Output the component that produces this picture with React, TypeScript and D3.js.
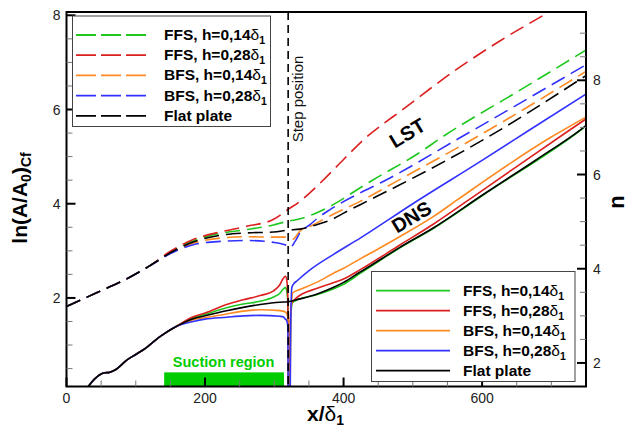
import React from "react";
import * as d3 from "d3";

type P = [number, number];

const W = 629;
const H = 430;
const M = { left: 66.5, right: 43, top: 12, bottom: 43.5 };
const FONT = "'Liberation Sans', Arial, sans-serif";

// axis domains
const X_MIN = 0;
const X_MAX = 750;
const Y_MIN = 0.12;
const Y_MAX = 8.07;
const N_OFFSET = 1.38; // right axis n = ln(A/A0) + offset

const xMajor = [0, 200, 400, 600];
const yMajor = [2, 4, 6, 8];
const nMajor = [2, 4, 6, 8];

const STEP_X = 320;
const SUCTION = [141, 314];
const SUCTION_TOP = 0.42;

const seriesNames = ["FFS, h=0,14", "FFS, h=0,28", "BFS, h=0,14", "BFS, h=0,28", "Flat plate"];
const seriesColors = ["#1ec81e", "#dc1f1f", "#ff8a22", "#3232ff", "#000000"];

// LST (dashed) curves
const lstStart: P[] = [[0, 1.82], [45, 2.12], [90, 2.43], [120, 2.68]];
const lstFFS014: P[] = [...lstStart, [150, 2.97], [183, 3.21], [222, 3.37], [260, 3.45], [299, 3.55], [320, 3.63], [337, 3.68], [360, 3.8], [385, 3.98], [424, 4.34], [443, 4.51], [506, 5.05], [544, 5.43], [650, 6.37], [751, 7.27]];
const lstFFS028: P[] = [...lstStart, [150, 2.99], [183, 3.24], [222, 3.4], [260, 3.52], [299, 3.67], [320, 3.88], [337, 4.05], [352, 4.24], [376, 4.58], [400, 4.94], [426, 5.32], [490, 6.05], [561, 6.83], [625, 7.45], [694, 8.05], [750, 8.55]];
const lstBFS014: P[] = [...lstStart, [150, 2.95], [183, 3.16], [222, 3.27], [260, 3.3], [299, 3.29], [320, 3.29], [327, 3.25], [337, 3.42], [352, 3.52], [383, 3.76], [424, 4.05], [477, 4.48], [602, 5.5], [750, 6.81]];
const lstBFS028: P[] = [...lstStart, [150, 2.94], [183, 3.13], [222, 3.2], [260, 3.22], [299, 3.18], [320, 3.1], [323, 3.07], [330, 3.2], [337, 3.38], [352, 3.56], [363, 3.7], [380, 3.87], [424, 4.23], [453, 4.44], [568, 5.4], [750, 6.95]];
const lstFlat: P[] = [...lstStart, [150, 2.96], [183, 3.19], [222, 3.33], [260, 3.38], [299, 3.4], [320, 3.44], [337, 3.46], [360, 3.55], [385, 3.68], [400, 3.8], [424, 3.98], [477, 4.37], [602, 5.36], [750, 6.72]];

// DNS (solid) curves
const dnsStart: P[] = [[28, 0.05], [31.5, 0.12], [40, 0.27], [48, 0.37], [55, 0.41], [62, 0.42], [70, 0.47], [87, 0.68], [100, 0.8], [111, 0.9], [135, 1.18], [159, 1.4]];
const dnsFFS014: P[] = [...dnsStart, [183, 1.58], [200, 1.65], [231, 1.79], [255, 1.87], [279.5, 1.93], [299, 2.02], [308, 2.1], [313, 2.19], [316, 2.22], [318, 2.15], [319.5, 1.9], [320.5, -1], [322, -1], [323.5, 1.5], [326, 1.9], [337, 1.98], [361, 2.07], [385, 2.19], [400, 2.29], [424, 2.52], [482, 3.07], [530, 3.48], [600, 4.17], [742, 5.56], [750, 5.65]];
const dnsFFS028: P[] = [...dnsStart, [183, 1.6], [200, 1.68], [231, 1.86], [255, 1.96], [279.5, 2.05], [299, 2.15], [308, 2.28], [313, 2.42], [316, 2.46], [318, 2.38], [319.5, 2.0], [320.5, -1], [322, -1], [323, 1.5], [325, 1.89], [332, 2.0], [361, 2.2], [385, 2.32], [400, 2.4], [424, 2.6], [482, 3.13], [530, 3.57], [600, 4.28], [727, 5.57], [750, 5.8]];
const dnsBFS014: P[] = [...dnsStart, [183, 1.54], [200, 1.58], [231, 1.66], [255, 1.72], [279.5, 1.75], [308, 1.73], [316, 1.7], [319.5, 1.6], [320.5, -1], [322, -1], [324, 1.6], [326.7, 2.11], [337, 2.18], [361, 2.33], [385, 2.52], [400, 2.63], [424, 2.83], [434, 2.91], [482, 3.31], [530, 3.73], [563, 4.07], [698, 5.4], [750, 5.84]];
const dnsBFS028: P[] = [...dnsStart, [183, 1.5], [200, 1.55], [231, 1.59], [255, 1.62], [279.5, 1.63], [308, 1.61], [313, 1.6], [316, 1.55], [318, 1.52], [319.5, 1.4], [320.5, -1], [322.5, -1], [323.5, 1.2], [325.3, 2.22], [328, 2.3], [332.5, 2.36], [352, 2.6], [385, 2.92], [424, 3.27], [500, 4.0], [600, 4.92], [669, 5.57], [750, 6.33]];
const dnsFlat: P[] = [...dnsStart, [183, 1.56], [200, 1.62], [231, 1.73], [255, 1.8], [279.5, 1.86], [308, 1.91], [320, 1.92], [337, 1.98], [361, 2.08], [385, 2.22], [400, 2.33], [424, 2.55], [434, 2.64], [482, 3.08], [530, 3.49], [600, 4.18], [680, 4.95], [742, 5.57], [750, 5.66]];

const lstSeries = [lstFFS014, lstFFS028, lstBFS014, lstBFS028, lstFlat];
const dnsSeries = [dnsFFS014, dnsFFS028, dnsBFS014, dnsBFS028, dnsFlat];

const Label = ({ text, delta }: { text: string; delta: boolean }) => (
  <>
    {text}
    {delta && <tspan fontWeight="normal">δ</tspan>}
    {delta && <tspan fontSize="10.5" dy="4">1</tspan>}
  </>
);

export default function App() {
  const innerW = W - M.left - M.right;
  const innerH = H - M.top - M.bottom;
  const x = d3.scaleLinear().domain([X_MIN, X_MAX]).range([M.left, M.left + innerW]);
  const y = d3.scaleLinear().domain([Y_MIN, Y_MAX]).range([M.top + innerH, M.top]);
  const yn = d3.scaleLinear().domain([Y_MIN + N_OFFSET, Y_MAX + N_OFFSET]).range([M.top + innerH, M.top]);

  const line = d3
    .line<P>()
    .x((d) => x(d[0]))
    .y((d) => y(d[1]))
    .curve(d3.curveMonotoneX);

  const xMinor = d3.range(50, X_MAX, 50).filter((v) => !xMajor.includes(v));
  const yMinor = d3.range(0.5, Y_MAX, 0.5).filter((v) => v > Y_MIN && !yMajor.includes(v));
  const nMinor = d3.range(2, Y_MAX + N_OFFSET, 0.5).filter((v) => !nMajor.includes(v));

  const bottom = M.top + innerH;
  const right = M.left + innerW;

  const legendTop = { x: 72.5, y: 16, w: 198, h: 110.5, row: 20.2, first: 35 };
  const legendBot = { x: 371.5, y: 271.5, w: 203.5, h: 110, row: 20, first: 290.7 };

  return (
    <svg width={W} height={H} style={{ position: "fixed", left: 0, top: 0, background: "#fff" }} fontFamily={FONT}>
      <defs>
        <clipPath id="plot">
          <rect x={M.left} y={M.top} width={innerW} height={innerH} />
        </clipPath>
      </defs>

      {/* suction region */}
      <rect x={x(SUCTION[0])} y={y(SUCTION_TOP)} width={x(SUCTION[1]) - x(SUCTION[0])} height={bottom - y(SUCTION_TOP)} fill="#00cc00" />
      <text x={x((SUCTION[0] + SUCTION[1]) / 2) - 0.5} y={367} textAnchor="middle" fontSize="14.5" fontWeight="bold" fill="#00cc00">
        Suction region
      </text>

      <g clipPath="url(#plot)" fill="none">
        {lstSeries.map((s, i) => (
          <path key={"l" + i} d={line(s) ?? ""} stroke={seriesColors[i]} strokeWidth={1.6} strokeDasharray="15,7" />
        ))}
        {dnsSeries.map((s, i) => (
          <path key={"d" + i} d={line(s) ?? ""} stroke={seriesColors[i]} strokeWidth={1.6} />
        ))}
        <line x1={x(STEP_X)} x2={x(STEP_X)} y1={M.top} y2={bottom} stroke="#000" strokeWidth={1.6} strokeDasharray="8,5" />
      </g>

      <text transform={`translate(303,99) rotate(-90)`} textAnchor="middle" fontSize="15" fill="#111">
        Step position
      </text>
      <text transform={`translate(${411},${139}) rotate(-31)`} textAnchor="middle" fontSize="20" fontWeight="bold">
        LST
      </text>
      <text transform={`translate(${415},${223}) rotate(-31)`} textAnchor="middle" fontSize="20" fontWeight="bold">
        DNS
      </text>

      {/* frame */}
      <rect x={M.left} y={M.top} width={innerW} height={innerH} fill="none" stroke="#000" strokeWidth={2} />

      {/* x ticks */}
      {xMinor.map((v) => (
        <line key={"xm" + v} x1={x(v)} x2={x(v)} y1={bottom} y2={bottom - 6} stroke="#777" strokeWidth={1} />
      ))}
      {xMajor.map((v) => (
        <g key={"xM" + v}>
          <line x1={x(v)} x2={x(v)} y1={bottom} y2={bottom - 9} stroke="#000" strokeWidth={2} />
          <text x={x(v)} y={bottom + 16} textAnchor="middle" fontSize="14" fill="#222">{v}</text>
        </g>
      ))}

      {/* left ticks */}
      {yMinor.map((v) => (
        <line key={"ym" + v} x1={M.left} x2={M.left + 6} y1={y(v)} y2={y(v)} stroke="#777" strokeWidth={1} />
      ))}
      {yMajor.map((v) => (
        <g key={"yM" + v}>
          <line x1={M.left} x2={M.left + 9} y1={y(v)} y2={y(v)} stroke="#000" strokeWidth={2} />
          <text x={M.left - 6} y={y(v) + 5} textAnchor="end" fontSize="14" fill="#222">{v}</text>
        </g>
      ))}

      {/* right ticks */}
      {nMinor.map((v) => (
        <line key={"nm" + v} x1={right} x2={right - 6} y1={yn(v)} y2={yn(v)} stroke="#777" strokeWidth={1} />
      ))}
      {nMajor.map((v) => (
        <g key={"nM" + v}>
          <line x1={right} x2={right - 9} y1={yn(v)} y2={yn(v)} stroke="#000" strokeWidth={2} />
          <text x={right + 7} y={yn(v) + 5} textAnchor="start" fontSize="14" fill="#222">{v}</text>
        </g>
      ))}

      {/* axis titles */}
      <text transform="translate(27,198) rotate(-90)" textAnchor="middle" fontSize="21" fontWeight="bold">
        ln(A/A<tspan fontSize="14" dy="4">0</tspan><tspan dy="-4">)</tspan><tspan fontSize="14" dy="4">Cf</tspan>
      </text>
      <text transform="translate(624,202) rotate(-90)" textAnchor="middle" fontSize="22" fontWeight="bold">n</text>
      <text x={307} y={421} fontSize="21" fontWeight="bold">
        x/<tspan fontWeight="normal">δ</tspan><tspan fontSize="14" dy="4">1</tspan>
      </text>

      {/* legend: LST */}
      <rect x={legendTop.x} y={legendTop.y} width={legendTop.w} height={legendTop.h} fill="#fff" stroke="#444" strokeWidth={1} />
      {seriesNames.map((n, i) => {
        const cy = legendTop.first + i * legendTop.row;
        return (
          <g key={"lt" + i}>
            <line x1={76} x2={146} y1={cy} y2={cy} stroke={seriesColors[i]} strokeWidth={1.8} strokeDasharray="20,5" />
            <text x={164} y={cy + 5} fontSize="15.5" fontWeight="bold">
              <Label text={n} delta={i < 4} />
            </text>
          </g>
        );
      })}

      {/* legend: DNS */}
      <rect x={legendBot.x} y={legendBot.y} width={legendBot.w} height={legendBot.h} fill="#fff" stroke="#444" strokeWidth={1} />
      {seriesNames.map((n, i) => {
        const cy = legendBot.first + i * legendBot.row;
        return (
          <g key={"lb" + i}>
            <line x1={376} x2={450} y1={cy} y2={cy} stroke={seriesColors[i]} strokeWidth={1.8} />
            <text x={463} y={cy + 5} fontSize="15.5" fontWeight="bold">
              <Label text={n} delta={i < 4} />
            </text>
          </g>
        );
      })}
    </svg>
  );
}
